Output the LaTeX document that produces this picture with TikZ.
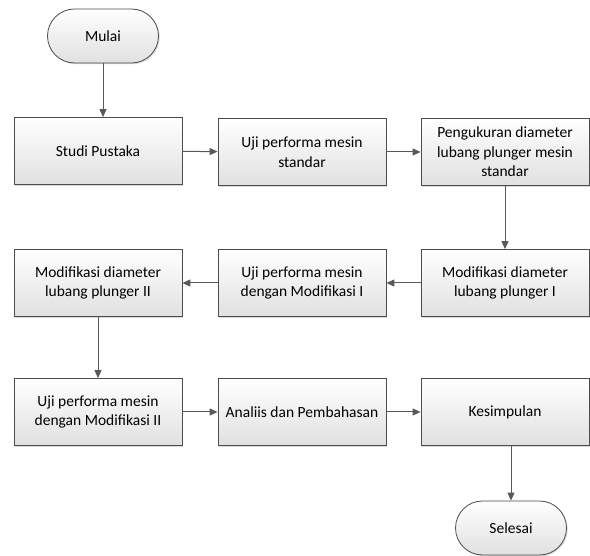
\documentclass[tikz,border=0pt]{standalone}
\usepackage{fontspec}
\setmainfont{Carlito}
\usetikzlibrary{arrows.meta,shapes.misc,shadows}
\begin{document}
\begin{tikzpicture}[x=1pt,y=-1pt,
  box/.style={draw=black!70, line width=0.8pt, top color=white, bottom color=black!12,
    minimum width=168pt, minimum height=67pt, align=center, font=\fontsize{15.5}{19.5}\selectfont,
    drop shadow={shadow xshift=1.2pt, shadow yshift=-1.2pt, fill=black!25, opacity=0.6}, inner sep=2pt},
  term/.style={box, rounded rectangle, minimum width=115pt, minimum height=54pt},
  arr/.style={draw=black!65, line width=1pt, -{Triangle[length=8pt,width=7pt]}}]
\useasboundingbox (0,0) rectangle (590,556);
\node[term] (mulai) at (103,36) {Mulai};
\node[box] (b1) at (98,151) {Studi Pustaka};
\node[box] (b2) at (302,152) {Uji performa mesin\\standar};
\node[box] (b3) at (505,152) {Pengukuran diameter\\lubang plunger mesin\\standar};
\node[box] (b4) at (505,283) {Modifikasi diameter\\lubang plunger I};
\node[box] (b5) at (302,283) {Uji performa mesin\\dengan Modifikasi I};
\node[box] (b6) at (98,283) {Modifikasi diameter\\lubang plunger II};
\node[box] (b7) at (98,412) {Uji performa mesin\\dengan Modifikasi II};
\node[box] (b8) at (302,412) {Analiis dan Pembahasan};
\node[box] (b9) at (505,412) {Kesimpulan};
\node[term] (selesai) at (511,528) {Selesai};
\draw[arr] (mulai.south) -- (mulai.south |- b1.north);
\draw[arr] (b1) -- (b2);
\draw[arr] (b2) -- (b3);
\draw[arr] (b3) -- (b4);
\draw[arr] (b4) -- (b5);
\draw[arr] (b5) -- (b6);
\draw[arr] (b6) -- (b7);
\draw[arr] (b7) -- (b8);
\draw[arr] (b8) -- (b9);
\draw[arr] (selesai.north |- b9.south) -- (selesai.north);
\end{tikzpicture}
\end{document}
